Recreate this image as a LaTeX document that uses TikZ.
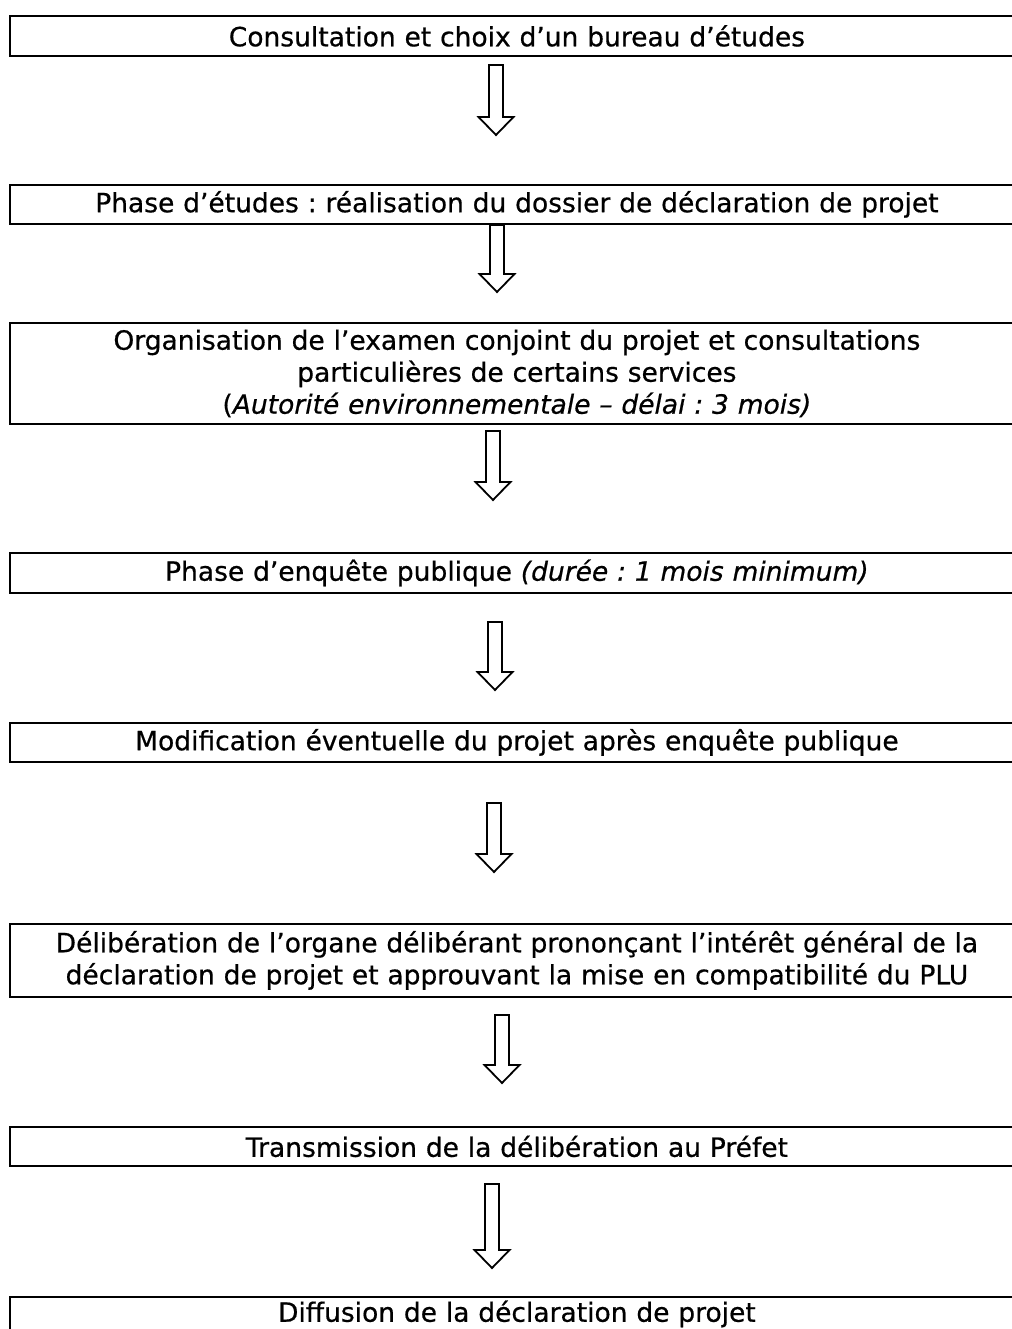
\documentclass[tikz,border=0pt]{standalone}
\usepackage{fontspec}
\setmainfont{DejaVu Sans}[UprightFeatures={FakeBold=0.6},ItalicFeatures={FakeBold=0.6}]
\frenchspacing
\begin{document}
\begin{tikzpicture}[x=1pt,y=-1pt,
  stepbox/.style={draw=black,line width=1.8pt,rectangle,anchor=north west,
    minimum width=1014pt,text width=1000pt,align=center,inner sep=0pt,
    font=\fontsize{26.5}{32}\selectfont},
  pics/darrow/.style={code={
    \draw[line width=1.8pt,line join=miter] (-7,0) -- (-7,#1-18) -- (-17.5,#1-18) -- (0,#1) -- (17.5,#1-18) -- (7,#1-18) -- (7,0) -- cycle;}}]
\useasboundingbox (0,0) rectangle (1011,1329);
\node[stepbox,minimum height=40pt] (b1) at (9,15) {Consultation et choix d’un bureau d’études};
\node[stepbox,minimum height=39pt] (b2) at (9,184) {Phase d’études : réalisation du dossier de déclaration de projet};
\node[stepbox,minimum height=101pt] (b3) at (9,322) {Organisation de l’examen conjoint du projet et consultations\\particulières de certains services\\(\textit{Autorité environnementale – délai : 3 mois)}};
\node[stepbox,minimum height=40pt] (b4) at (9,552) {Phase d’enquête publique \textit{(durée : 1 mois minimum)}};
\node[stepbox,minimum height=39pt] (b5) at (9,722) {Modification éventuelle du projet après enquête publique};
\node[stepbox,minimum height=73pt] (b6) at (9,923) {Délibération de l’organe délibérant prononçant l’intérêt général de la\\déclaration de projet et approuvant la mise en compatibilité du PLU};
\node[stepbox,minimum height=39pt] (b7) at (9,1126) {Transmission de la délibération au Préfet};
\node[stepbox,minimum height=34pt] (b8) at (9,1296) {Diffusion de la déclaration de projet};
\pic at (496,65) {darrow=70};
\pic at (497,225) {darrow=67};
\pic at (493,431) {darrow=69};
\pic at (495,622) {darrow=68};
\pic at (494,803) {darrow=69};
\pic at (502,1015) {darrow=68};
\pic at (492,1184) {darrow=84};
\end{tikzpicture}
\end{document}
